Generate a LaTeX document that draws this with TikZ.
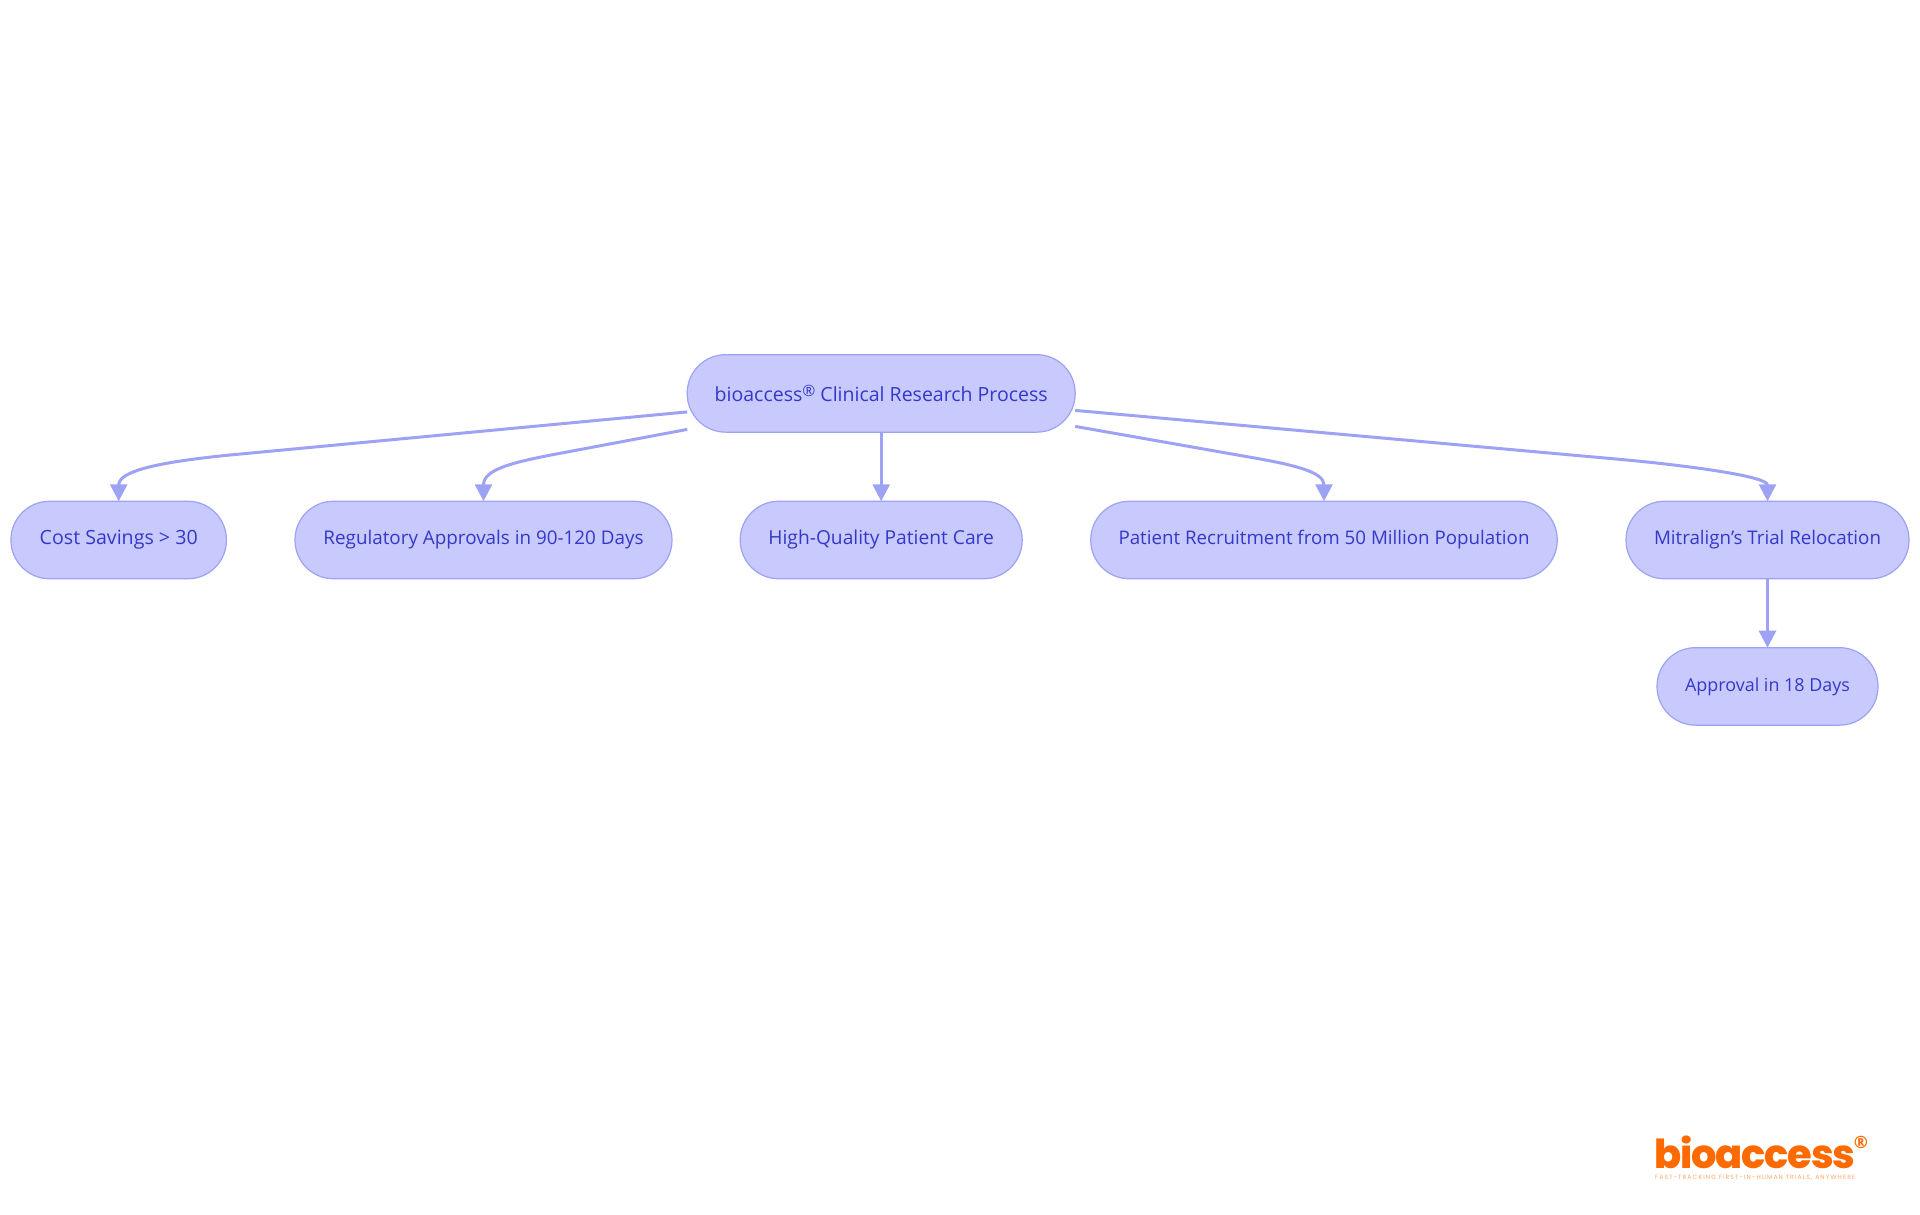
\documentclass[tikz,border=0pt]{standalone}
\usepackage{fontspec}
\usepackage{graphicx}
\setmainfont{Open Sans}
\newfontfamily\logofont{Poppins ExtraBold}
\newfontfamily\tagfont{Poppins}
\usetikzlibrary{arrows.meta,calc}
\definecolor{nodefill}{HTML}{C8CAFD}
\definecolor{nodeline}{HTML}{9EA2F4}
\definecolor{nodetext}{HTML}{3438C9}
\definecolor{logoorange}{HTML}{FF6A00}
\definecolor{logotag}{HTML}{FFA668}
\newcommand{\fitlabel}[2]{\raisebox{-1.4pt}{\resizebox{#1pt}{!}{#2}}}
\tikzset{
  pill/.style={draw=nodeline,fill=nodefill,line width=1.2pt,rounded corners=38.5pt,
    minimum height=77.5pt,inner sep=0pt,outer sep=0pt,text=nodetext,anchor=center},
  edge/.style={draw=nodeline,line width=3pt,-{Triangle[length=17pt,width=17pt]}},
}
\begin{document}
\begin{tikzpicture}[x=1pt,y=-1pt]
\useasboundingbox (0,0) rectangle (1920,1215);
\node[pill,minimum width=388pt] (root) at (881.2,393.4) {\resizebox{333pt}{!}{bioaccess\raisebox{0.42ex}{\scalebox{0.8}{®}} Clinical Research Process}};
\node[pill,minimum width=215.5pt] (cost) at (118.7,540) {\fitlabel{158}{Cost Savings > 30}};
\node[pill,minimum width=377pt] (reg) at (483.5,540) {\fitlabel{320}{Regulatory Approvals in 90-120 Days}};
\node[pill,minimum width=282pt] (care) at (881.2,540) {\fitlabel{225.5}{High-Quality Patient Care}};
\node[pill,minimum width=466.5pt] (recruit) at (1324,540) {\fitlabel{411}{Patient Recruitment from 50 Million Population}};
\node[pill,minimum width=283pt] (mitra) at (1767.5,540) {\fitlabel{227}{Mitralign’s Trial Relocation}};
\node[pill,minimum width=221pt] (appr) at (1767.5,686.4) {\fitlabel{165}{Approval in 18 Days}};

\draw[edge] ($(root.west)+(0,18.5)$) -- (230,455) .. controls (165,461.5) and (118.7,470) .. (cost.north);
\draw[edge] ($(root.west)+(0,36)$) -- (551,455) .. controls (510,463) and (483.5,470) .. (reg.north);
\draw[edge] (root.south) -- (care.north);
\draw[edge] ($(root.east)+(0,33)$) -- (1249,457) .. controls (1295,465) and (1324,472) .. (recruit.north);
\draw[edge] ($(root.east)+(0,17)$) -- (1627,460) .. controls (1700,467) and (1767.5,477) .. (mitra.north);
\draw[edge] (mitra.south) -- (appr.north);

\node[anchor=base west,inner sep=0pt,text=logoorange] (logo) at (1654,1168) {\logofont\resizebox{201pt}{!}{\addfontfeature{LetterSpace=-3}bioaccess}};
\node[anchor=center,inner sep=0pt,text=logoorange] (logoreg) at (1861,1142) {\fontsize{17}{17}\selectfont\bfseries ®};
\node[anchor=base west,inner sep=0pt,text=logotag] (logotagline) at (1655,1179.5) {\tagfont\resizebox{200pt}{!}{\addfontfeature{LetterSpace=18}FAST-TRACKING FIRST-IN-HUMAN TRIALS, ANYWHERE}};
\end{tikzpicture}
\end{document}
